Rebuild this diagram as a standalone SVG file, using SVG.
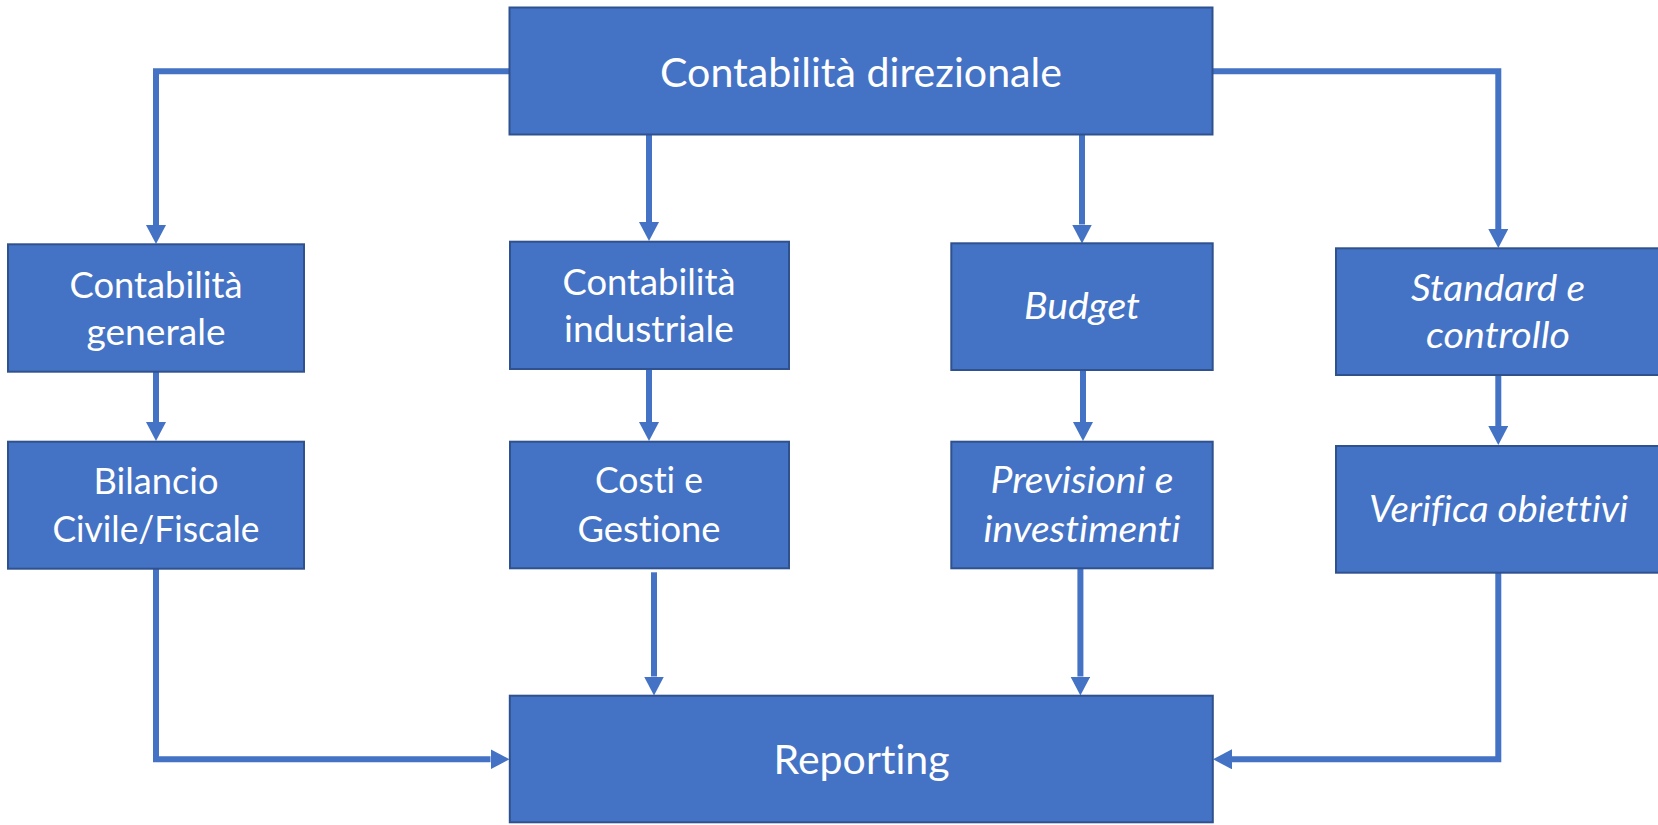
<svg xmlns="http://www.w3.org/2000/svg" width="1658" height="825" viewBox="0 0 1658 825">
<style>
.box{fill:#4472C4;stroke:#2F528F;stroke-width:2}
.t{fill:#FFFFFF;font-family:Lato,"Open Sans",sans-serif;font-size:36px;text-anchor:middle;font-variant-ligatures:none;font-feature-settings:"liga" 0,"dlig" 0}
.big{font-size:40px}
.it{font-style:italic}
.c{fill:none;stroke:#4472C4;stroke-width:6;marker-end:url(#ah)}
</style>
<defs>
<marker id="ah" viewBox="0 0 19 20" refX="0" refY="10" markerWidth="19" markerHeight="20" markerUnits="userSpaceOnUse" orient="auto">
<path d="M0,0 L19,10 L0,20 Z" fill="#4472C4"/>
</marker>
</defs>
<g id="connectors">
<path class="c" d="M510,71.3 H156 V225"/>
<path class="c" d="M649,134.5 V222"/>
<path class="c" d="M1082,134.5 V224.5"/>
<path class="c" d="M1212,71.3 H1498.3 V229"/>
<path class="c" d="M156,372 V422"/>
<path class="c" d="M649,369 V422"/>
<path class="c" d="M1083,370 V422"/>
<path class="c" d="M1498.3,375 V426"/>
<path class="c" d="M156,569 V759.3 H490.5"/>
<path class="c" d="M654,572.3 V676.5"/>
<path class="c" d="M1080.4,568.5 V676.5"/>
<path class="c" d="M1498.3,572.7 V759.3 H1232"/>
</g>
<g id="n-direzionale">
<rect class="box" x="509.5" y="7.5" width="703" height="127"/>
<text class="t big" x="861" y="87.3" textLength="402" lengthAdjust="spacingAndGlyphs">Contabilità direzionale</text>
</g>
<g id="n-generale">
<rect class="box" x="8" y="244.3" width="296" height="127.4"/>
<text class="t" x="156" y="298.3" textLength="173" lengthAdjust="spacingAndGlyphs">Contabilità</text>
<text class="t" x="156" y="345" textLength="139" lengthAdjust="spacingAndGlyphs">generale</text>
</g>
<g id="n-industriale">
<rect class="box" x="510" y="241.7" width="279" height="127.3"/>
<text class="t" x="649" y="295" textLength="173" lengthAdjust="spacingAndGlyphs">Contabilità</text>
<text class="t" x="649" y="341.7" textLength="170" lengthAdjust="spacingAndGlyphs">industriale</text>
</g>
<g id="n-budget">
<rect class="box" x="951.3" y="243.3" width="261.4" height="126.7"/>
<text class="t it" x="1082" y="319.3" textLength="116" lengthAdjust="spacingAndGlyphs">Budget</text>
</g>
<g id="n-standard">
<rect class="box" x="1336" y="248.3" width="326" height="126.7"/>
<text class="t it" x="1498" y="301" textLength="174" lengthAdjust="spacingAndGlyphs">Standard e</text>
<text class="t it" x="1498" y="348.3" textLength="144" lengthAdjust="spacingAndGlyphs">controllo</text>
</g>
<g id="n-bilancio">
<rect class="box" x="8" y="441.7" width="296" height="127"/>
<text class="t" x="156" y="494" textLength="125" lengthAdjust="spacingAndGlyphs">Bilancio</text>
<text class="t" x="156" y="541.7" textLength="207" lengthAdjust="spacingAndGlyphs">Civile/Fiscale</text>
</g>
<g id="n-costi">
<rect class="box" x="510" y="441.7" width="279" height="126.6"/>
<text class="t" x="649" y="493.3" textLength="108" lengthAdjust="spacingAndGlyphs">Costi e</text>
<text class="t" x="649" y="541.7" textLength="143" lengthAdjust="spacingAndGlyphs">Gestione</text>
</g>
<g id="n-previsioni">
<rect class="box" x="951.3" y="441.7" width="261.4" height="126.6"/>
<text class="t it" x="1082" y="493.3" textLength="183" lengthAdjust="spacingAndGlyphs">Previsioni e</text>
<text class="t it" x="1082" y="541.7" textLength="197" lengthAdjust="spacingAndGlyphs">investimenti</text>
</g>
<g id="n-verifica">
<rect class="box" x="1336" y="446" width="326" height="126.7"/>
<text class="t it" x="1498.5" y="521.7" textLength="259" lengthAdjust="spacingAndGlyphs">Verifica obiettivi</text>
</g>
<g id="n-reporting">
<rect class="box" x="509.8" y="695.7" width="703" height="126.6"/>
<text class="t big" x="861.6" y="774" textLength="176" lengthAdjust="spacingAndGlyphs">Reporting</text>
</g>
</svg>
